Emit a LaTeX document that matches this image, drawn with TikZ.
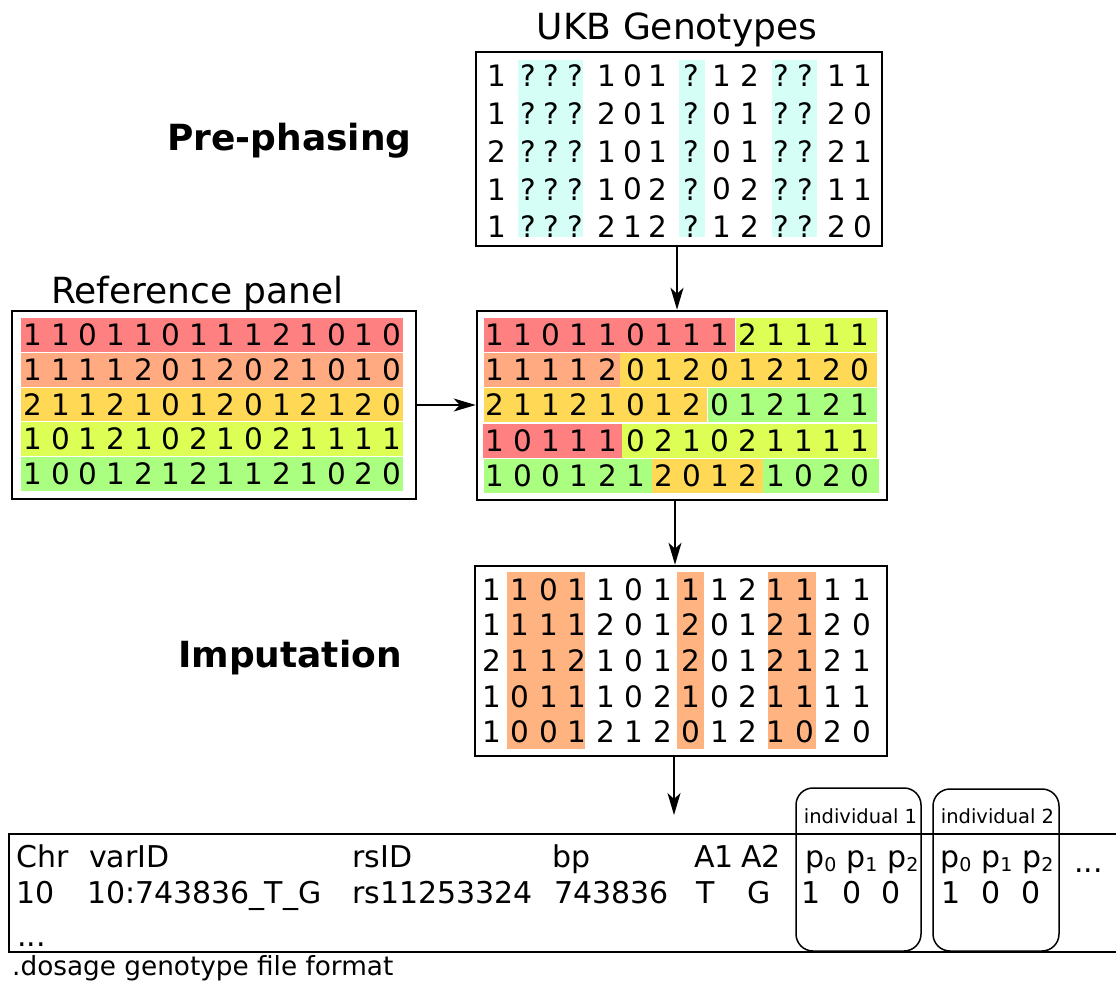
\documentclass[tikz,border=0pt]{standalone}
\usepackage{fontspec}
\setmainfont{DejaVu Sans}
\usetikzlibrary{arrows.meta,calc}
\definecolor{cyanband}{HTML}{D5FFF6}
\definecolor{hred}{HTML}{FF8080}
\definecolor{horange}{HTML}{FFAA80}
\definecolor{hgold}{HTML}{FFD955}
\definecolor{hlime}{HTML}{DDFF55}
\definecolor{hgreen}{HTML}{AAFF80}
\definecolor{impband}{HTML}{FFB380}
\newcommand{\psub}[1]{p{\fontsize{19}{19}\selectfont\raisebox{-4.5pt}{#1}}}
\begin{document}
\begin{tikzpicture}[x=1pt,y=-1pt,
  panel/.style={draw=black, line width=2.6pt, inner sep=0pt},
  dig/.style={inner sep=0pt, font=\fontsize{29.5}{29.5}\selectfont},
  title/.style={anchor=base, inner sep=0pt, font=\fontsize{36}{36}\selectfont},
  steptitle/.style={anchor=base, inner sep=0pt, font=\bfseries\fontsize{36}{36}\selectfont},
  dtext/.style={anchor=base west, inner sep=0pt, font=\fontsize{30}{30}\selectfont},
  dctext/.style={anchor=base, inner sep=0pt, font=\fontsize{30}{30}\selectfont},
  indtext/.style={inner sep=0pt, font=\fontsize{19.5}{19.5}\selectfont},
  indbox/.style={draw=black, line width=1.5pt, rounded corners=17pt, inner sep=0pt},
  arr/.style={line width=1.3pt, -{Stealth[length=22pt,width=13pt,inset=6pt]}}
]
\useasboundingbox (0,0) rectangle (1116,983);

% ---------- titles ----------
\node[title] (tukb) at (677,39) {UKB Genotypes};
\node[title] (tref) at (197.5,303) {Reference panel};
\node[steptitle] (tpre) at (289.5,150) {Pre-phasing};
\node[steptitle] (timp) at (290,667) {Imputation};

% ---------- UKB genotypes ----------
\fill[cyanband] (518,60) rectangle (583,237);
\fill[cyanband] (679,60) rectangle (705,237);
\fill[cyanband] (772,60) rectangle (817,237);
\def\ukbx{{496.7,528.3,551.7,575,606.7,633.3,658.3,691.7,721.7,750,781.7,805,836.7,863.3}}
\foreach \row [count=\r from 0] in {
  {1,?,?,?,1,0,1,?,1,2,?,?,1,1},
  {1,?,?,?,2,0,1,?,0,1,?,?,2,0},
  {2,?,?,?,1,0,1,?,0,1,?,?,2,1},
  {1,?,?,?,1,0,2,?,0,2,?,?,1,1},
  {1,?,?,?,2,1,2,?,1,2,?,?,2,0}}{
  \foreach \ch [count=\c from 0] in \row {
    \pgfmathsetmacro\xx{\ukbx[\c]}
    \node[dig] (u-\r-\c) at (\xx,76+37.75*\r) {\ch};
  }
}
\node[panel, minimum width=406pt, minimum height=194pt] (ukb) at (679,149) {};

% ---------- reference panel ----------
\fill[hred]    (21,318) rectangle (403,352);
\fill[horange] (21,353) rectangle (403,387);
\fill[hgold]   (21,388) rectangle (403,421);
\fill[hlime]   (21,422) rectangle (403,456);
\fill[hgreen]  (21,457) rectangle (403,491);
\foreach \row/\yy [count=\r from 0] in {
  {1,1,0,1,1,0,1,1,1,2,1,0,1,0}/335,
  {1,1,1,1,2,0,1,2,0,2,1,0,1,0}/370,
  {2,1,1,2,1,0,1,2,0,1,2,1,2,0}/405,
  {1,0,1,2,1,0,2,1,0,2,1,1,1,1}/439,
  {1,0,0,1,2,1,2,1,1,2,1,0,2,0}/474}{
  \foreach \ch [count=\c from 0] in \row {
    \node[dig] (r-\r-\c) at (33+27.6*\c,\yy) {\ch};
  }
}
\node[panel, minimum width=404pt, minimum height=188pt] (ref) at (214,405) {};

% ---------- phased haplotypes ----------
\fill[hred]    (484,318) rectangle (735,352);
\fill[hlime]   (736,318) rectangle (877,352);
\fill[horange] (484,353) rectangle (620,387);
\fill[hgold]   (620,353) rectangle (877,387);
\fill[hgold]   (484,388) rectangle (707,422);
\fill[hgreen]  (708,388) rectangle (877,422);
\fill[hred]    (483,424) rectangle (622,458);
\fill[hlime]   (622,424) rectangle (877,458);
\fill[hgreen]  (484,459) rectangle (652,493);
\fill[hgold]   (652,459) rectangle (763,493);
\fill[hgreen]  (763,459) rectangle (879,493);
\foreach \row/\yy [count=\r from 0] in {
  {1,1,0,1,1,0,1,1,1,2,1,1,1,1}/335,
  {1,1,1,1,2,0,1,2,0,1,2,1,2,0}/370,
  {2,1,1,2,1,0,1,2,0,1,2,1,2,1}/405,
  {1,0,1,1,1,0,2,1,0,2,1,1,1,1}/441,
  {1,0,0,1,2,1,2,0,1,2,1,0,2,0}/476}{
  \foreach \ch [count=\c from 0] in \row {
    \node[dig] (p-\r-\c) at (495+28.1*\c,\yy) {\ch};
  }
}
\node[panel, minimum width=410pt, minimum height=189pt] (phased) at (682,405.5) {};

% ---------- imputed genotypes ----------
\fill[impband] (507,572) rectangle (585,749);
\fill[impband] (677,572) rectangle (704,749);
\fill[impband] (768,572) rectangle (816,749);
\foreach \row/\yy [count=\r from 0] in {
  {1,1,0,1,1,0,1,1,1,2,1,1,1,1}/590,
  {1,1,1,1,2,0,1,2,0,1,2,1,2,0}/625,
  {2,1,1,2,1,0,1,2,0,1,2,1,2,1}/661,
  {1,0,1,1,1,0,2,1,0,2,1,1,1,1}/697,
  {1,0,0,1,2,1,2,0,1,2,1,0,2,0}/732}{
  \foreach \ch [count=\c from 0] in \row {
    \node[dig] (i-\r-\c) at (491.7+28.46*\c,\yy) {\ch};
  }
}
\node[panel, minimum width=412pt, minimum height=190pt] (imp) at (681,661) {};

% ---------- arrows ----------
\coordinate (colA) at (677,0);
\coordinate (colB) at (675,0);
\coordinate (dosarrow) at (674,815);
\draw[arr] (ukb.south -| colA) -- (phased.north -| colA);
\draw[arr] (ref.east) -- (phased.west |- ref.east);
\draw[arr] (phased.south -| colB) -- (imp.north -| colB);
\draw[arr] (imp.south -| dosarrow) -- (dosarrow);

% ---------- dosage file ----------
\coordinate (dtr) at (1116,834);
\coordinate (dtl) at (9,834);
\coordinate (dbl) at (9,952);
\coordinate (dbr) at (1116,952);
\draw[line width=1.8pt] (dtr) -- (dtl) -- (dbl) -- (dbr);

\node[indbox, minimum width=125pt, minimum height=163pt] (ind1) at (858.5,869.5) {};
\node[indbox, minimum width=126pt, minimum height=162pt] (ind2) at (996,870) {};
\node[indtext] (ind1t) at (860.5,816) {individual 1};
\node[indtext] (ind2t) at (997.5,816) {individual 2};

\node[dtext] (hchr) at (16,867) {Chr};
\node[dtext] (hvar) at (89,867) {varID};
\node[dtext] (hrs)  at (352,867) {rsID};
\node[dtext] (hbp)  at (552,867) {bp};
\node[dtext] (ha1)  at (694,867) {A1};
\node[dtext] (ha2)  at (741,867) {A2};
\node[dtext] (h1p0) at (805,867) {\psub{0}};
\node[dtext] (h1p1) at (846,867) {\psub{1}};
\node[dtext] (h1p2) at (887,867) {\psub{2}};
\node[dtext] (h2p0) at (940,867) {\psub{0}};
\node[dtext] (h2p1) at (981,867) {\psub{1}};
\node[dtext] (h2p2) at (1022,867) {\psub{2}};
\node[dtext] (hmore) at (1074,872) {...};

\node[dtext] (vchr) at (16,903) {10};
\node[dtext] (vvar) at (87,903) {10:743836\_T\_G};
\node[dtext] (vrs)  at (352,903) {rs11253324};
\node[dtext] (vbp)  at (554,903) {743836};
\node[dctext] (va1) at (706,903) {T};
\node[dctext] (va2) at (759,903) {G};
\node[dctext] (v10) at (811,903) {1};
\node[dctext] (v11) at (852,903) {0};
\node[dctext] (v12) at (891,903) {0};
\node[dctext] (v20) at (951,903) {1};
\node[dctext] (v21) at (991,903) {0};
\node[dctext] (v22) at (1031,903) {0};
\node[dtext] (vmore) at (17,946) {...};

\node[anchor=base west, inner sep=0pt, font=\fontsize{26.3}{26.3}\selectfont] (cap) at (12,975) {.dosage genotype file format};
\end{tikzpicture}
\end{document}
